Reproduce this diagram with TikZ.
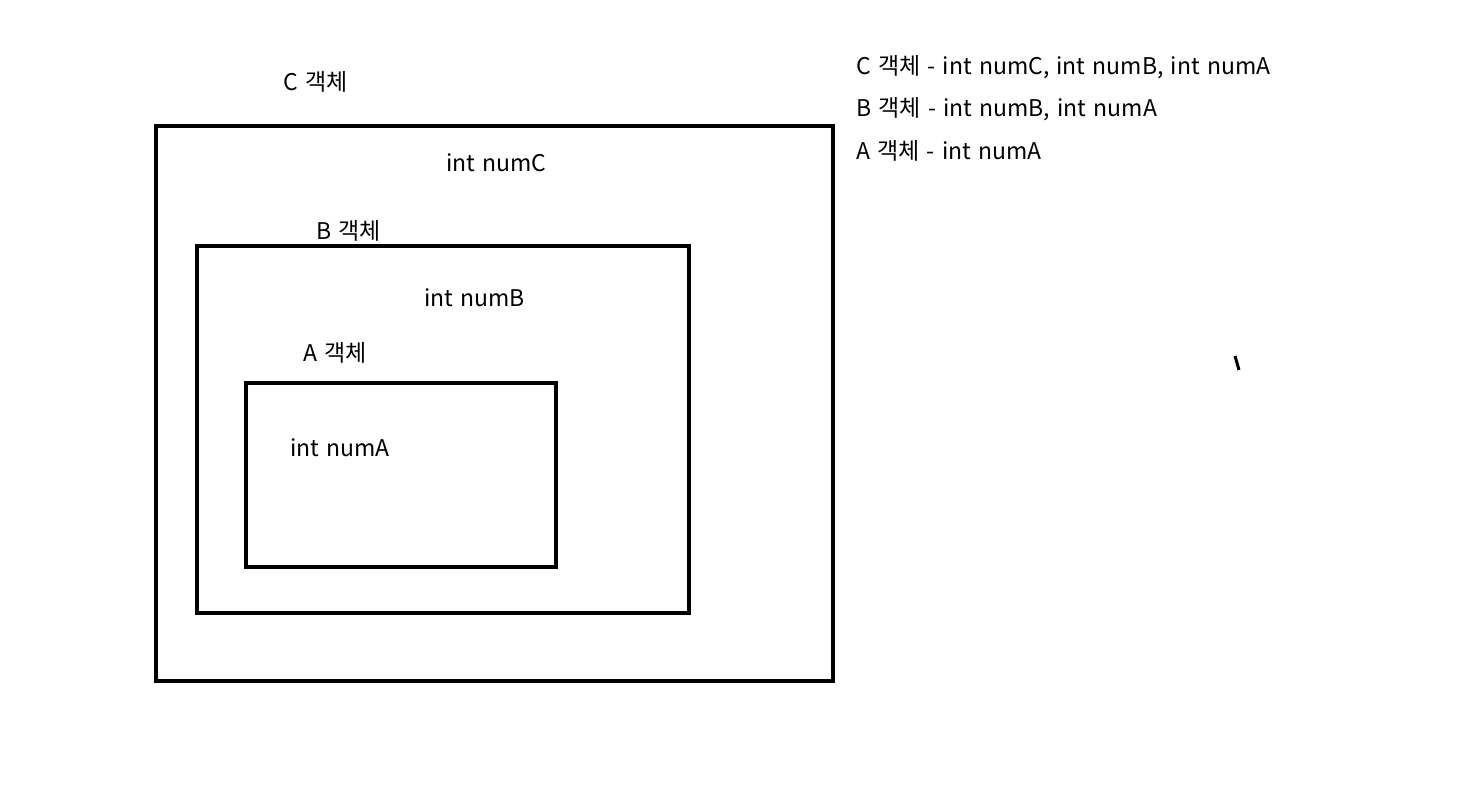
\documentclass[tikz,border=0pt]{standalone}
\usepackage{fontspec}
\setmainfont[WordSpace=1.4]{Noto Sans CJK KR}

\tikzset{
  objbox/.style={line width=4pt},
  lbl/.style={anchor=west, inner sep=0pt, font=\fontsize{23}{27}\selectfont},
}

\begin{document}
\begin{tikzpicture}[x=1pt,y=-1pt]

\useasboundingbox (0,0) rectangle (1459,788);

%\draw(0,0) grid[step=100] (1459,788);


% C object
\draw[objbox](156,126) rectangle (833,681);
\node[lbl] (cname) at (283,82) {C 객체};
\node[lbl] (cvar) at (446,163) {int numC};


% B object
\draw[objbox](197,246) rectangle (689,613);
\node[lbl] (bname) at (316,231) {B 객체};
\node[lbl] (bvar) at (424,298) {int numB};


% A object
\draw[objbox](246,383) rectangle (556,567);
\node[lbl] (aname) at (303,353) {A 객체};
\node[lbl] (avar) at (290,448) {int numA};


% summary
\node[lbl] (csum) at (856,67) {C 객체 - int numC, int numB, int numA};
\node[lbl] (bsum) at (856,109) {B 객체 - int numB, int numA};
\node[lbl] (asum) at (856,151) {A 객체 - int numA};


\draw[line width=3pt](1235,356) -- (1239,370);

\end{tikzpicture}
\end{document}
